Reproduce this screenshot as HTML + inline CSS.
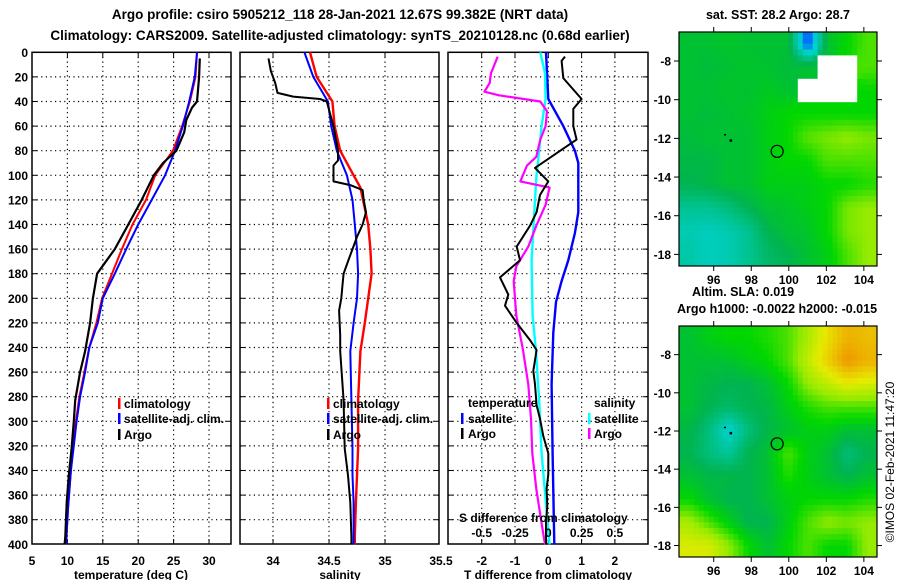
<!DOCTYPE html>
<html><head><meta charset="utf-8">
<style>
html,body{margin:0;padding:0;background:#fff;}
svg{display:block;font-family:"Liberation Sans",sans-serif;font-weight:bold;}
</style></head>
<body>
<svg id="c" width="900" height="580" viewBox="0 0 900 580" xmlns="http://www.w3.org/2000/svg">
<text x="340" y="19" font-size="13.5" text-anchor="middle">Argo profile: csiro 5905212_118 28-Jan-2021 12.67S 99.382E (NRT data)</text>
<text x="340" y="40" font-size="13.5" text-anchor="middle">Climatology: CARS2009. Satellite-adjusted climatology: synTS_20210128.nc (0.68d earlier)</text>
<text x="778" y="19" font-size="12.5" text-anchor="middle">sat. SST: 28.2 Argo: 28.7</text>
<text x="743" y="296" font-size="12.5" text-anchor="middle">Altim. SLA: 0.019</text>
<text x="777" y="313" font-size="12.5" text-anchor="middle">Argo h1000: -0.0022 h2000: -0.015</text>
<text x="0" y="0" font-size="12" font-weight="normal" text-anchor="middle" transform="translate(894,462) rotate(-90)">©IMOS 02-Feb-2021 11:47:20</text>
<g id="g"></g>
</svg>
<script>
// ---------- data ----------
const depthTicks=[0,20,40,60,80,100,120,140,160,180,200,220,240,260,280,300,320,340,360,380,400];
const tTickLabels=[5,10,15,20,25,30];
const sTickLabels=[34,34.5,35,35.5];
const dTickLabels=[-2,-1,0,1,2];
const sdTickLabels=[-0.5,-0.25,0,0.25,0.5];

const tClimDepth=[0,20,40,60,80,100,120,140,160,180,200,220,240,260,280,300,320,340,370,400];
const tClimVal=[28.3,28.1,27.3,26.2,24.9,22.4,21.1,19.2,17.7,16.3,14.9,14.1,13.1,12.4,11.7,11.2,10.8,10.5,10.1,9.8];
const tSatDepth=[0,20,40,60,80,100,120,140,160,180,200,220,240,260,280,300,320,340,370,400];
const tSatVal=[28.3,28.0,27.2,26.3,25.2,23.8,21.9,20.0,18.3,16.7,15.0,14.3,13.1,12.5,11.8,11.3,10.9,10.5,10.1,9.8];
const tArgoDepth=[5,20,40,45,55,65,80,90,100,120,140,160,180,200,220,243,260,283,300,322,344,366,394,400];
const tArgoVal=[28.7,28.6,28.3,27.6,26.8,26.5,25.4,23.5,22.2,20.5,18.6,16.7,14.2,13.6,13.2,12.5,11.8,11.1,10.9,10.6,10.2,9.9,9.7,9.6];

const sClimDepth=[0,20,40,60,80,100,110,140,160,180,200,220,243,283,322,344,366,394,400];
const sClimVal=[34.33,34.39,34.53,34.55,34.60,34.72,34.78,34.85,34.87,34.88,34.85,34.82,34.78,34.76,34.76,34.75,34.74,34.73,34.73];
const sSatDepth=[0,20,40,60,80,100,120,140,160,180,200,220,243,283,322,344,366,394,400];
const sSatVal=[34.28,34.36,34.49,34.52,34.57,34.66,34.71,34.73,34.75,34.76,34.75,34.72,34.69,34.70,34.71,34.71,34.72,34.72,34.72];
const sArgoDepth=[5,15,25,33,36,38,40,50,60,80,88,92,100,105,108,112,120,130,140,150,160,170,180,190,200,210,230,243,283,322,344,366,394,400];
const sArgoVal=[33.96,33.98,34.02,34.04,34.18,34.42,34.48,34.51,34.54,34.58,34.58,34.54,34.54,34.54,34.69,34.80,34.81,34.83,34.80,34.75,34.71,34.67,34.63,34.62,34.61,34.59,34.60,34.60,34.63,34.64,34.67,34.69,34.70,34.70];

const dTArgoDepth=[3.5,7,21,38,46,60,71,82,94,105,116,130,141,158,169,183,197,206,220,234,242,259,270,287,298,312,326,343,355,368,383,400];
const dTArgoVal=[0.5,0.4,0.45,1.0,0.75,0.75,0.85,0.25,-0.4,0,-0.25,-0.35,-0.55,-0.95,-0.85,-1.45,-1.2,-1.3,-0.95,-0.55,-0.35,-0.45,-0.4,-0.35,-0.25,-0.15,0,0,-0.05,-0.03,-0.07,-0.07];
const dTSatDepth=[0,38,60,80,90,130,147,169,186,203,228,270,326,400];
const dTSatVal=[-0.07,0,0.45,0.8,0.9,0.9,0.8,0.6,0.4,0.23,0.15,0.1,0.13,0.18];
const dSSatDepth=[0,17,38,60,102,130,169,214,242,284,326,400];
const dSSatVal=[-0.06,-0.025,-0.02,-0.05,-0.09,-0.105,-0.125,-0.118,-0.093,-0.068,-0.05,0.01];
const dSArgoDepth=[3.5,17,25,32,35,40,48,60,71,85,92,105,110,124,141,158,174,186,214,242,270,298,326,355,383,400];
const dSArgoVal=[-0.38,-0.43,-0.44,-0.48,-0.37,-0.06,-0.01,-0.02,-0.06,-0.09,-0.16,-0.21,0.01,-0.02,-0.09,-0.15,-0.24,-0.26,-0.24,-0.19,-0.15,-0.13,-0.12,-0.09,-0.05,-0.025];

const sstGrid=[
[.45,.45,.46,.45,.45,.45,.2,.45,.5,.55],
[.45,.44,.45,.46,.45,.44,.45,-1,-1,.55],
[.45,.45,.46,.45,.47,.45,-1,-1,-1,.5],
[.45,.44,.45,.46,.48,.5,.5,.5,.5,.5],
[.44,.45,.45,.45,.48,.5,.56,.58,.6,.58],
[.43,.43,.45,.45,.48,.5,.5,.55,.55,.55],
[.42,.43,.45,.45,.48,.48,.48,.5,.5,.52],
[.36,.36,.38,.42,.45,.46,.48,.5,.58,.6],
[.33,.32,.33,.36,.42,.45,.46,.5,.58,.6],
[.34,.32,.33,.36,.4,.42,.45,.48,.55,.6]];
const slaGrid=[
[.45,.48,.5,.5,.52,.55,.62,.72,.8,.78],
[.45,.45,.45,.48,.5,.55,.65,.75,.85,.8],
[.45,.43,.42,.42,.45,.5,.6,.65,.7,.68],
[.45,.42,.4,.42,.43,.48,.52,.55,.55,.55],
[.43,.38,.3,.38,.43,.45,.48,.48,.45,.45],
[.42,.38,.35,.42,.45,.55,.48,.45,.38,.42],
[.45,.43,.43,.42,.45,.52,.48,.45,.42,.45],
[.5,.45,.42,.42,.45,.48,.5,.5,.5,.52],
[.62,.55,.48,.42,.42,.48,.55,.6,.58,.6],
[.68,.68,.6,.5,.45,.5,.55,.5,.5,.6]];
const latTicks=[-8,-10,-12,-14,-16,-18];
const lonTicks=[96,98,100,102,104];
const argoLon=99.38, argoLat=-12.67;

// ---------- helpers ----------
const NS='http://www.w3.org/2000/svg';
const G=document.getElementById('g');
function mk(tag,attrs,parent){const e=document.createElementNS(NS,tag);for(const k in attrs)e.setAttribute(k,attrs[k]);(parent||G).appendChild(e);return e;}
const Y0=52.3,YK=1.23,YB=544;
function yD(d){return Y0+d*YK;}
function lin(d0,d1,r0,r1){return v=>r0+(v-d0)*(r1-r0)/(d1-d0);}
const xT=lin(5,10,32,67.4);
const xS=lin(34,34.5,273,329);
const xDT=lin(0,1,548.3,581.6);
const xDS=lin(0,0.25,548.3,581.6);

function frame(x0,x1,name,xg,gridVals){
  const f=mk('g',{});
  
  
  depthTicks.forEach(d=>{ if(d>0&&d<400){
    const l=mk('line',{x1:x0,x2:x1,y1:yD(d),y2:yD(d),stroke:'#000','stroke-width':1.2,'stroke-dasharray':'1.2 3.4'},f);
    
    
    mk('line',{x1:x0,x2:x0+5,y1:yD(d),y2:yD(d),stroke:'#000'},f);
    mk('line',{x1:x1-5,x2:x1,y1:yD(d),y2:yD(d),stroke:'#000'},f);
  }});
  gridVals.forEach(v=>{const x=xg(v);
    const l=mk('line',{x1:x,x2:x,y1:Y0,y2:YB,stroke:'#000','stroke-width':1.2,'stroke-dasharray':'1.2 3.4'},f);
    
    
    mk('line',{x1:x,x2:x,y1:Y0,y2:Y0+5,stroke:'#000'},f);
    mk('line',{x1:x,x2:x,y1:YB-5,y2:YB,stroke:'#000'},f);
  });
  mk('rect',{x:x0,y:Y0,width:x1-x0,height:YB-Y0,fill:'none',stroke:'#000','stroke-width':1.5},f);
  return f;
}
function line(xf,ds,vs,color,w,name){
  const p=ds.map((d,i)=>xf(vs[i]).toFixed(1)+','+yD(d).toFixed(1)).join(' ');
  const e=mk('polyline',{points:p,fill:'none',stroke:color,'stroke-width':w,'stroke-linejoin':'round'});
  
  
}
function txt(x,y,s,size,anchor,name){const t=mk('text',{x:x,y:y,'font-size':size,'text-anchor':anchor||'start'});t.textContent=s;
  
  
  return t;}
function legMark(x,y,color){const m=mk('rect',{x:x,y:y-10,width:2.5,height:11,fill:color});
  
  }

// ---------- panel 1 ----------
frame(32,231,'temperature-panel',xT,[10,15,20,25,30]);
depthTicks.forEach(d=>txt(28,yD(d)+4.5,String(d),12,'end','depth-tick-label'));
tTickLabels.forEach(v=>txt(xT(v),565,String(v),12,'middle','temperature-tick-label'));
txt(131,579,'temperature (deg C)',12,'middle','temperature-axis-title');
line(xT,tClimDepth,tClimVal,'#ff0000',2,'temperature-climatology-line');
line(xT,tSatDepth,tSatVal,'#0000ff',2,'temperature-satellite-line');
line(xT,tArgoDepth,tArgoVal,'#000',2.2,'temperature-argo-line');
legMark(118,408,'#f00');txt(124,408,'climatology',12,'start','legend-climatology');
legMark(118,423,'#00f');txt(124,423,'satellite-adj. clim.',12,'start','legend-satellite');
legMark(118,439,'#000');txt(124,439,'Argo',12,'start','legend-argo');

// ---------- panel 2 ----------
frame(240,439,'salinity-panel',xS,[34,34.5,35]);
sTickLabels.forEach(v=>txt(xS(v),565,String(v),12,'middle','salinity-tick-label'));
txt(340,579,'salinity',12,'middle','salinity-axis-title');
line(xS,sClimDepth,sClimVal,'#ff0000',2.4,'salinity-climatology-line');
line(xS,sSatDepth,sSatVal,'#0000ff',2,'salinity-satellite-line');
line(xS,sArgoDepth,sArgoVal,'#000',2,'salinity-argo-line');
legMark(327,408,'#f00');txt(333,408,'climatology',12,'start','legend-climatology');
legMark(327,423,'#00f');txt(333,423,'satellite-adj. clim.',12,'start','legend-satellite');
legMark(327,439,'#000');txt(333,439,'Argo',12,'start','legend-argo');

// ---------- panel 3 ----------
frame(448,648,'difference-panel',xDT,[-2,-1,0,1,2]);
dTickLabels.forEach(v=>txt(xDT(v),565,String(v),12,'middle','t-diff-tick-label'));
txt(548,579,'T difference from climatology',12,'middle','t-diff-axis-title');
line(xDT,dTSatDepth,dTSatVal,'#0000ff',2.4,'t-diff-satellite-line');
line(xDS,dSSatDepth,dSSatVal,'#00ffff',2.4,'s-diff-satellite-line');
line(xDS,dSArgoDepth,dSArgoVal,'#ff00ff',2.2,'s-diff-argo-line');
line(xDT,dTArgoDepth,dTArgoVal,'#000',2,'t-diff-argo-line');
txt(468,407,'temperature',12,'start','legend-temperature-heading');
legMark(461,423,'#00f');txt(468,423,'satellite',12,'start','legend-t-satellite');
legMark(461,438,'#000');txt(468,438,'Argo',12,'start','legend-t-argo');
txt(594,407,'salinity',12,'start','legend-salinity-heading');
legMark(588,423,'#0ff');txt(594,423,'satellite',12,'start','legend-s-satellite');
legMark(588,438,'#f0f');txt(594,438,'Argo',12,'start','legend-s-argo');
txt(459,522,'S difference from climatology',12,'start','s-diff-axis-title');
sdTickLabels.forEach(v=>txt(xDS(v),537,String(v),12,'middle','s-diff-tick-label'));

// ---------- maps ----------
const stops=[[0.15,[0,0,140]],[0.22,[0,100,255]],[0.3,[0,210,210]],[0.42,[0,180,80]],[0.5,[0,215,0]],[0.6,[150,235,0]],[0.7,[230,235,0]],[0.85,[240,150,0]]];
function cmap(v){
  if(v<0) return '#ffffff';
  if(v<=stops[0][0]) return 'rgb('+stops[0][1]+')';
  for(let i=1;i<stops.length;i++){ if(v<=stops[i][0]){
    const a=stops[i-1],b=stops[i],t=(v-a[0])/(b[0]-a[0]);
    return 'rgb('+a[1].map((c,j)=>Math.round(c+(b[1][j]-c)*t)).join(',')+')';}}
  return 'rgb('+stops[stops.length-1][1]+')';
}
function sample(grid,fr,fc){
  const R=grid.length,C=grid[0].length;
  const r=Math.min(Math.max(fr-0.5,0),R-1), c=Math.min(Math.max(fc-0.5,0),C-1);
  const nr=Math.floor(fr), nc=Math.floor(fc);
  if(grid[Math.min(nr,R-1)][Math.min(nc,C-1)]<0) return -1;
  const r0=Math.floor(r),c0=Math.floor(c),r1=Math.min(r0+1,R-1),c1=Math.min(c0+1,C-1),tr=r-r0,tc=c-c0;
  const g=(a,b)=>{const v=grid[a][b];return v<0?grid[Math.min(nr,R-1)][Math.min(nc,C-1)]:v;};
  return (g(r0,c0)*(1-tc)+g(r0,c1)*tc)*(1-tr)+(g(r1,c0)*(1-tc)+g(r1,c1)*tc)*tr;
}
function drawMap(grid,y0,y1,name){
  const x0=679,x1=877;
  const lonX=lin(94.15,104.7,x0,x1), latY=lin(-6.5,-18.6,y0,y1);
  const m=mk('g',{});
  
  
  const rows=grid.length, cols=grid[0].length, N=4;
  const cw=(x1-x0)/(cols*N), ch=(y1-y0)/(rows*N);
  for(let r=0;r<rows*N;r++)for(let c=0;c<cols*N;c++){
    const v=sample(grid,(r+0.5)/N,(c+0.5)/N);
    const cell=mk('rect',{x:x0+c*cw,y:y0+r*ch,width:cw+0.4,height:ch+0.4,fill:cmap(v)},m);
    
    
  }
  mk('rect',{x:x0,y:y0,width:x1-x0,height:y1-y0,fill:'none',stroke:'#000','stroke-width':1.2},m);
  latTicks.forEach(l=>{const y=latY(l);
    mk('line',{x1:x0-5,x2:x0,y1:y,y2:y,stroke:'#000'},m);
    mk('line',{x1:x1,x2:x1+5,y1:y,y2:y,stroke:'#000'},m);
    txt(671,y+4.5,String(l),12,'end','latitude-tick-label');});
  lonTicks.forEach(l=>{const x=lonX(l);
    mk('line',{x1:x,x2:x,y1:y0-5,y2:y0,stroke:'#000'},m);
    mk('line',{x1:x,x2:x,y1:y1,y2:y1+5,stroke:'#000'},m);
    txt(x,y1+18,String(l),12,'middle','longitude-tick-label');});
  const c=mk('circle',{cx:lonX(argoLon),cy:latY(argoLat),r:6,fill:'none',stroke:'#000','stroke-width':1.2},m);
  
  
  mk('rect',{x:lonX(96.9)-1,y:latY(-12.1)-1,width:2.5,height:2.5,fill:'#000'},m);
  mk('rect',{x:lonX(96.6)-1,y:latY(-11.8)-0.5,width:2,height:1.5,fill:'#000'},m);
}
drawMap(sstGrid,32,266,'sst-map');
drawMap(slaGrid,326,557,'sla-map');
</script>
</body></html>
